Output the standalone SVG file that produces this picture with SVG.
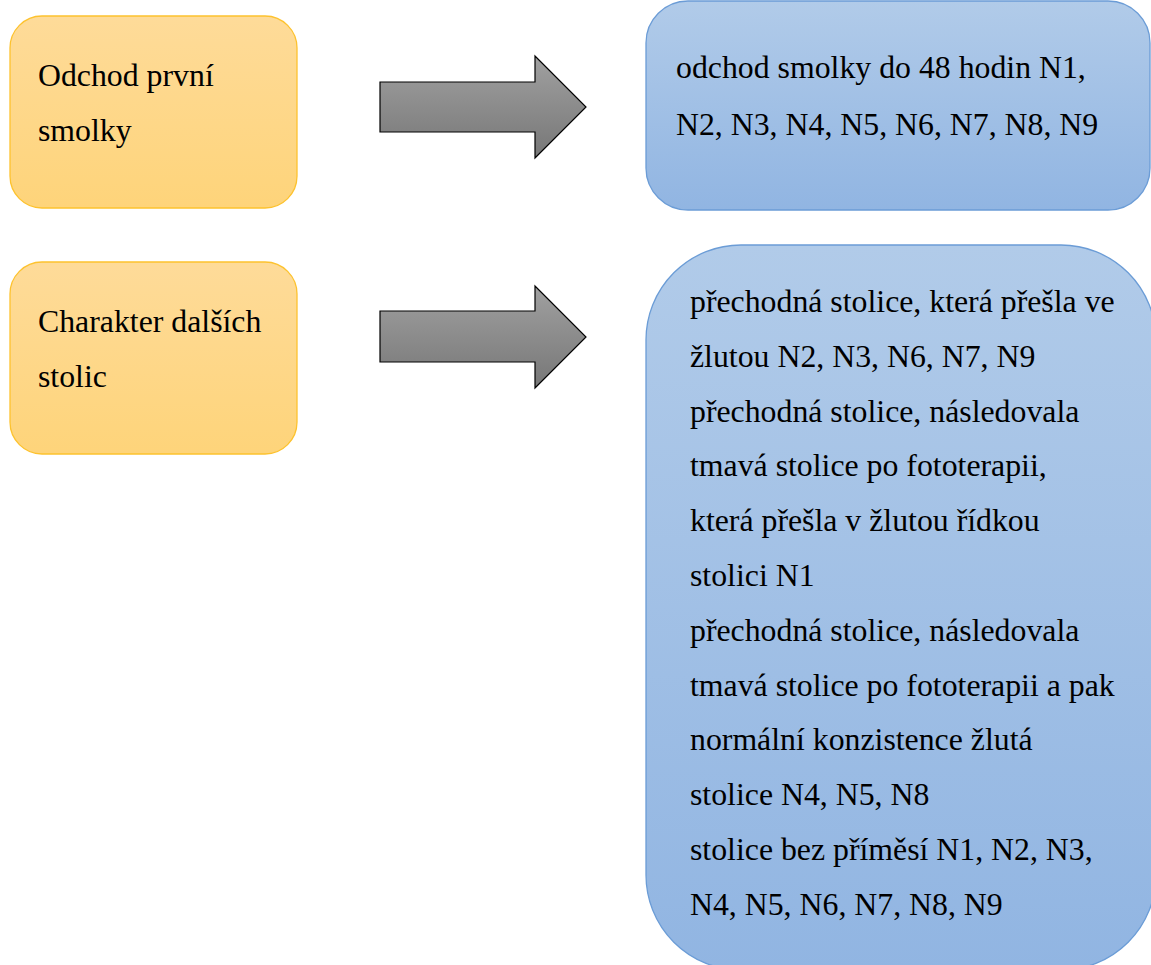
<svg xmlns="http://www.w3.org/2000/svg" width="1151" height="965" viewBox="0 0 1151 965">
<defs>
<linearGradient id="gOr" x1="0" y1="0" x2="0" y2="1"><stop offset="0" stop-color="#fedb99"/><stop offset="1" stop-color="#fed47a"/></linearGradient>
<linearGradient id="gBl" x1="0" y1="0" x2="0" y2="1"><stop offset="0" stop-color="#b1cbe9"/><stop offset="1" stop-color="#91b5e2"/></linearGradient>
<linearGradient id="gAr" x1="0" y1="0" x2="0" y2="1"><stop offset="0" stop-color="#a0a0a0"/><stop offset="1" stop-color="#777777"/></linearGradient>
<style>
.or{fill:url(#gOr);stroke:#fdc22e;stroke-width:1.3}
.bl{fill:url(#gBl);stroke:#6b9cd6;stroke-width:1.3}
.ar{fill:url(#gAr);stroke:#000;stroke-width:1.2;stroke-linejoin:miter}
text{font-family:"Liberation Serif","Times New Roman",serif;font-size:31.8px;fill:#000}
</style>
</defs>
<g id="connectors">
<polygon class="ar" points="380,82 535,82 535,56 586,107 535,158 535,132 380,132"/>
<polygon class="ar" points="380,311 535,311 535,286 586,337 535,388 535,362 380,362"/>
</g>
<g id="n1">
<rect class="or" x="10" y="16" width="287" height="192" rx="32"/>
<text x="38" y="86">Odchod první</text>
<text x="38" y="141">smolky</text>
</g>
<g id="n2">
<rect class="or" x="10" y="262" width="287" height="192" rx="32"/>
<text x="38" y="332">Charakter dalších</text>
<text x="38" y="387">stolic</text>
</g>
<g id="n3">
<rect class="bl" x="646" y="1" width="504" height="209" rx="42"/>
<text x="676" y="78">odchod smolky do 48 hodin N1,</text>
<text x="676" y="135">N2, N3, N4, N5, N6, N7, N8, N9</text>
</g>
<g id="n4">
<rect class="bl" x="646" y="245" width="510" height="725" rx="95"/>
<text x="690" y="312">přechodná stolice, která přešla ve</text>
<text x="690" y="367">žlutou N2, N3, N6, N7, N9</text>
<text x="690" y="422">přechodná stolice, následovala</text>
<text x="690" y="476">tmavá stolice po fototerapii,</text>
<text x="690" y="531">která přešla v žlutou řídkou</text>
<text x="690" y="586">stolici N1</text>
<text x="690" y="641">přechodná stolice, následovala</text>
<text x="690" y="696">tmavá stolice po fototerapii a pak</text>
<text x="690" y="750">normální konzistence žlutá</text>
<text x="690" y="805">stolice N4, N5, N8</text>
<text x="690" y="860">stolice bez příměsí N1, N2, N3,</text>
<text x="690" y="915">N4, N5, N6, N7, N8, N9</text>
</g>
</svg>
